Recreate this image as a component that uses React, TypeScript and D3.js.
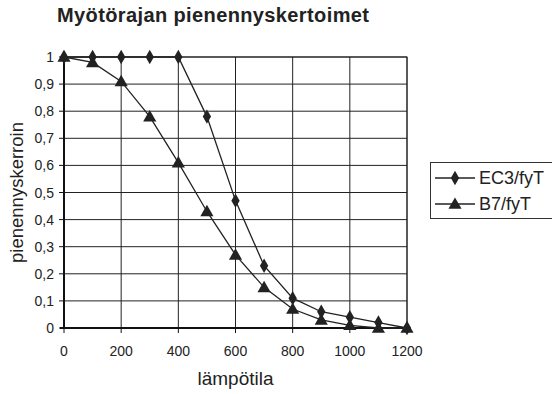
import { useEffect, useRef } from 'react';
import * as d3 from 'd3';

const temps = [0, 100, 200, 300, 400, 500, 600, 700, 800, 900, 1000, 1100, 1200];
const ec3 = [1, 1, 1, 1, 1, 0.78, 0.47, 0.23, 0.11, 0.06, 0.04, 0.02, 0];
const b7 = [1, 0.98, 0.91, 0.78, 0.61, 0.43, 0.27, 0.15, 0.07, 0.03, 0.01, 0.0, 0];
const xTicks = [0, 200, 400, 600, 800, 1000, 1200];
const yTicks = [0, 0.1, 0.2, 0.3, 0.4, 0.5, 0.6, 0.7, 0.8, 0.9, 1];
const seriesNames = ['EC3/fyT', 'B7/fyT'];

const font = 'Liberation Sans, Arial, sans-serif';

export default function App() {
  const ref = useRef<SVGSVGElement>(null);

  useEffect(() => {
    const svg = d3.select(ref.current);
    svg.selectAll('*').remove();

    const m = { left: 64, top: 57, right: 407, bottom: 328 };
    const x = d3.scaleLinear().domain([0, 1200]).range([m.left, m.right]);
    const y = d3.scaleLinear().domain([0, 1]).range([m.bottom, m.top]);

    svg.append('rect').attr('width', 552).attr('height', 394).attr('fill', '#fff');

    svg.append('text').attr('x', 57).attr('y', 22)
      .attr('font-family', font).attr('font-weight', 'bold').attr('font-size', 20)
      .attr('textLength', 312).attr('lengthAdjust', 'spacing')
      .attr('fill', '#222').text('Myötörajan pienennyskertoimet');

    const g = svg.append('g');
    // grid
    g.selectAll('line.h').data(yTicks).join('line')
      .attr('x1', m.left).attr('x2', m.right).attr('y1', (d) => y(d)).attr('y2', (d) => y(d))
      .attr('stroke', '#222').attr('stroke-width', 1);
    g.selectAll('line.v').data(xTicks).join('line')
      .attr('y1', m.top).attr('y2', m.bottom).attr('x1', (d) => x(d)).attr('x2', (d) => x(d))
      .attr('stroke', '#222').attr('stroke-width', 1);
    // frame
    g.append('rect').attr('x', m.left).attr('y', m.top).attr('width', m.right - m.left).attr('height', m.bottom - m.top)
      .attr('fill', 'none').attr('stroke', '#222').attr('stroke-width', 1);
    // axes
    g.append('line').attr('x1', m.left).attr('x2', m.left).attr('y1', m.top).attr('y2', m.bottom).attr('stroke', '#111').attr('stroke-width', 2);
    g.append('line').attr('x1', m.left - 4).attr('x2', m.right).attr('y1', m.bottom).attr('y2', m.bottom).attr('stroke', '#111').attr('stroke-width', 2);
    // ticks
    g.selectAll('line.yt').data(yTicks).join('line')
      .attr('x1', m.left - 5).attr('x2', m.left).attr('y1', (d) => y(d)).attr('y2', (d) => y(d)).attr('stroke', '#111');
    g.selectAll('line.xt').data(xTicks).join('line')
      .attr('y1', m.bottom).attr('y2', m.bottom + 5).attr('x1', (d) => x(d)).attr('x2', (d) => x(d)).attr('stroke', '#111');

    const fmt = (d: number) => (d === 0 || d === 1 ? String(d) : d3.format('.1f')(d).replace('.', ','));
    g.selectAll('text.yl').data(yTicks).join('text')
      .attr('x', m.left - 10).attr('y', (d) => y(d) + 5).attr('text-anchor', 'end')
      .attr('font-family', font).attr('font-size', 14).attr('fill', '#222').text(fmt);
    g.selectAll('text.xl').data(xTicks).join('text')
      .attr('x', (d) => x(d)).attr('y', m.bottom + 28).attr('text-anchor', 'middle')
      .attr('font-family', font).attr('font-size', 14).attr('fill', '#222').text((d) => String(d));

    svg.append('text').attr('x', x(600)).attr('y', 385).attr('text-anchor', 'middle')
      .attr('font-family', font).attr('font-size', 19).attr('fill', '#222').text('lämpötila');
    svg.append('text').attr('transform', `translate(23,${(m.top + m.bottom) / 2}) rotate(-90)`)
      .attr('text-anchor', 'middle').attr('font-family', font).attr('font-size', 18.5).attr('fill', '#222')
      .text('pienennyskerroin');

    const line = d3.line<number>().x((_, i) => x(temps[i])).y((d) => y(d));
    const diamond = d3.symbol().type(d3.symbolDiamond).size(60);
    const triangle = d3.symbol().type(d3.symbolTriangle).size(75);

    [ec3, b7].forEach((s, k) => {
      g.append('path').datum(s).attr('d', line).attr('fill', 'none').attr('stroke', '#222').attr('stroke-width', 1.3);
      g.selectAll(`path.m${k}`).data(s).join('path').attr('class', `m${k}`)
        .attr('transform', (d, i) => `translate(${x(temps[i])},${y(d) + (k === 1 ? 1 : 0)})`)
        .attr('d', k === 0 ? diamond() : triangle()).attr('fill', '#222');
    });

    // legend
    const lg = svg.append('g');
    lg.append('rect').attr('x', 430.5).attr('y', 162.5).attr('width', 130).attr('height', 56)
      .attr('fill', '#fff').attr('stroke', '#333').attr('stroke-width', 1);
    seriesNames.forEach((n, k) => {
      const yy = 178 + k * 26;
      lg.append('line').attr('x1', 435).attr('x2', 475).attr('y1', yy).attr('y2', yy).attr('stroke', '#222').attr('stroke-width', 1.3);
      lg.append('path').attr('transform', `translate(455,${yy + (k === 1 ? 1 : 0)})`)
        .attr('d', k === 0 ? diamond() : triangle()).attr('fill', '#222');
      lg.append('text').attr('x', 479).attr('y', yy + 6).attr('font-family', font).attr('font-size', 18)
        .attr('fill', '#222').text(n);
    });
  }, []);

  return (
    <svg ref={ref} width={552} height={394} style={{ position: 'absolute', left: 0, top: 0, display: 'block' }} />
  );
}
